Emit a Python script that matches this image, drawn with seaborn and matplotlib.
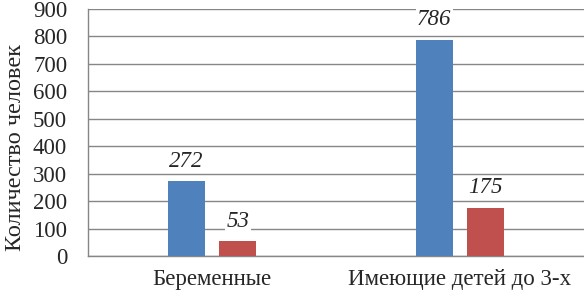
import pandas as pd
import matplotlib
matplotlib.use('Agg')
import matplotlib.pyplot as plt
import seaborn as sns

# chart values
categories = ['Беременные', 'Имеющие детей до 3-х']
series_names = ['Ряд 1', 'Ряд 2']
values_blue = [272, 786]
values_red = [53, 175]
y_ticks = [0, 100, 200, 300, 400, 500, 600, 700, 800, 900]

df = pd.DataFrame({
    'category': categories * 2,
    'series': [series_names[0]] * 2 + [series_names[1]] * 2,
    'value': values_blue + values_red,
})

sns.set_style('white')
plt.rcParams['font.family'] = ['Liberation Serif', 'DejaVu Serif']

fig = plt.figure(figsize=(5.84, 2.96), dpi=100)
ax = fig.add_axes([0.1507, 0.135, 0.8493, 0.835])

palette = {series_names[0]: '#4F81BD', series_names[1]: '#C0504D'}
sns.barplot(data=df, x='category', y='value', hue='series', palette=palette,
            width=0.416, gap=0.28, saturation=1, legend=False, linewidth=0,
            ax=ax, zorder=3)

for container in ax.containers:
    labels = ax.bar_label(container, padding=7, fontsize=16.5, fontstyle='italic')
    for t in labels:
        t.set_bbox(dict(facecolor='white', edgecolor='none', pad=1))
        t.set_zorder(4)

ax.set_ylim(0, 900)
ax.set_xlim(-0.5, 1.5)
ax.set_yticks(y_ticks)
ax.tick_params(axis='y', labelsize=16.5, length=0, pad=15)
ax.tick_params(axis='x', labelsize=16.5, length=0, pad=9)
ax.yaxis.grid(True, color='#868686', linewidth=1, zorder=0)
ax.set_axisbelow(True)

for side in ['top', 'right']:
    ax.spines[side].set_visible(False)
for side in ['left', 'bottom']:
    ax.spines[side].set_color('#868686')
    ax.spines[side].set_linewidth(1)

ax.set_xlabel('')
ax.set_ylabel('Количество человек', fontsize=17.5)
ax.yaxis.set_label_coords(-0.125, 0.44)

fig.savefig('out.png', dpi=100)
